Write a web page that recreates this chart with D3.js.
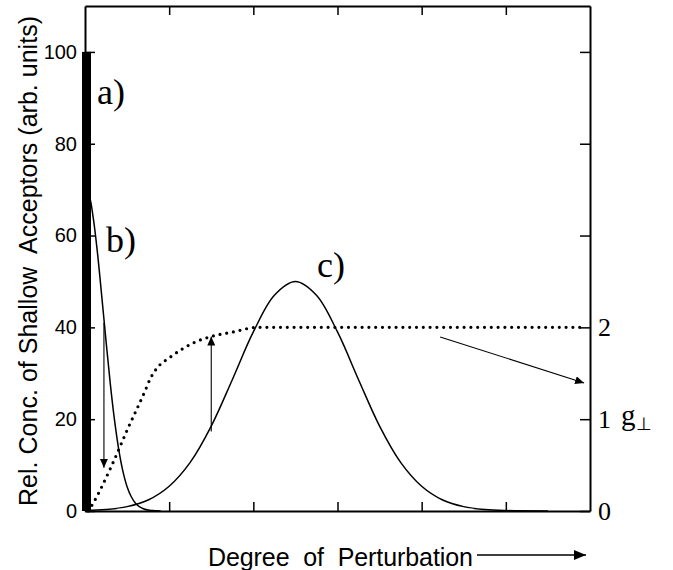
<!DOCTYPE html>
<html>
<head>
<meta charset="utf-8">
<script src="https://cdn.jsdelivr.net/npm/d3@7"></script>
<style>
  html, body { margin: 0; padding: 0; background: #fff; }
  svg { display: block; }
</style>
</head>
<body>
<svg id="chart" width="673" height="570"></svg>
<script>
// ---- data ----
const xTicks = [1, 2, 3, 4, 5];
const yTicks = [0, 20, 40, 60, 80, 100];
const gTicks = [0, 1, 2, 3, 4, 5];
const gTickLabels = ["0", "1", "2", "", "", ""];

// a) bar at the origin
const barA_x = 0;
const barA_value = 100;

// b) curve
const bX = [0, 0.05, 0.1, 0.15, 0.2, 0.25, 0.3, 0.35, 0.4, 0.45, 0.5, 0.55, 0.6, 0.65, 0.7, 0.75, 0.8, 0.9];
const bY = [70.5, 68.7, 63.6, 55.9, 46.6, 37.0, 27.8, 19.9, 13.5, 8.7, 5.3, 3.1, 1.7, 0.9, 0.45, 0.2, 0.1, 0];

// c) curve
const cX = [0, 0.25, 0.5, 0.75, 1.0, 1.25, 1.5, 1.75, 2.0, 2.25, 2.5, 2.75, 3.0, 3.25, 3.5, 3.75, 4.0, 4.25, 4.5, 4.75, 5.0, 5.5];
const cY = [0.1, 0.33, 0.95, 2.4, 5.4, 10.6, 18.5, 28.6, 39.0, 47.0, 50, 47.0, 39.0, 28.6, 18.5, 10.6, 5.4, 2.4, 0.95, 0.33, 0.1, 0];

// g-perp (dotted, right axis)
const gX = [0.04, 0.1, 0.31, 0.51, 0.71, 0.78, 0.85, 1.02, 1.31, 1.5, 1.76, 2.05, 2.4, 3, 4, 5, 5.88];
const gY = [0, 0.09, 0.48, 0.9, 1.3, 1.45, 1.55, 1.68, 1.84, 1.9, 1.95, 2.0, 2.0, 2.0, 2.0, 2.0, 2.0];

// arrows in data units: [x1, y1, x2, y2] (left-axis values)
const arrowDown = [0.225, 41, 0.225, 9.4];
const arrowUp = [1.5, 17.3, 1.5, 38];
const arrowDiag = [4.22, 37.9, 5.93, 27.9];

const labelA = "a)", labelB = "b)", labelC = "c)";
const yTitle = "Rel. Conc. of Shallow  Acceptors (arb. units)";
const xTitle = "Degree  of  Perturbation";

// ---- scales ----
const L = 85, R = 590, T = 6, B = 511;
const x = d3.scaleLinear().domain([0, 6]).range([L, R]);
const y = d3.scaleLinear().domain([0, 110]).range([B, T]);
const g = d3.scaleLinear().domain([0, 5.5]).range([B, T]);

const svg = d3.select("#chart");
const SANS = "'Liberation Sans', Arial, sans-serif";
const SERIF = "'Liberation Serif', 'Times New Roman', serif";

// markers
const defs = svg.append("defs");
defs.append("marker").attr("id", "head").attr("viewBox", "0 -4 9 8")
  .attr("refX", 9).attr("refY", 0).attr("markerWidth", 9).attr("markerHeight", 8)
  .attr("markerUnits", "userSpaceOnUse").attr("orient", "auto")
  .append("path").attr("d", "M0,-4L9,0L0,4Z").attr("fill", "#000");
defs.append("marker").attr("id", "bighead").attr("viewBox", "0 -5 12 10")
  .attr("refX", 12).attr("refY", 0).attr("markerWidth", 12).attr("markerHeight", 10)
  .attr("markerUnits", "userSpaceOnUse").attr("orient", "auto")
  .append("path").attr("d", "M0,-5L12,0L0,5Z").attr("fill", "#000");

// a) bar
svg.append("rect")
  .attr("x", x(barA_x) - 3).attr("width", 9)
  .attr("y", y(barA_value)).attr("height", y(0) - y(barA_value))
  .attr("fill", "#000");

// curves
const lineB = d3.line().x((d, i) => x(bX[i])).y(d => y(d)).curve(d3.curveCatmullRom);
svg.append("path").attr("d", lineB(bY)).attr("fill", "none").attr("stroke", "#000").attr("stroke-width", 1.5);

const lineC = d3.line().x((d, i) => x(cX[i])).y(d => y(d)).curve(d3.curveCatmullRom);
svg.append("path").attr("d", lineC(cY)).attr("fill", "none").attr("stroke", "#000").attr("stroke-width", 1.5);

const lineG = d3.line().x((d, i) => x(gX[i])).y(d => g(d)).curve(d3.curveMonotoneX);
svg.append("path").attr("d", lineG(gY)).attr("fill", "none").attr("stroke", "#000")
  .attr("stroke-width", 3.2).attr("stroke-linecap", "round").attr("stroke-dasharray", "0,6.8");

// arrows
[arrowDown, arrowUp, arrowDiag].forEach(a => {
  svg.append("line")
    .attr("x1", x(a[0])).attr("y1", y(a[1]))
    .attr("x2", x(a[2])).attr("y2", y(a[3]))
    .attr("stroke", "#000").attr("stroke-width", 1.1)
    .attr("marker-end", "url(#head)");
});

// axes
function styleAxis(sel, w) {
  sel.select(".domain").attr("stroke", "#000").attr("stroke-width", w);
  sel.selectAll(".tick line").attr("stroke", "#000").attr("stroke-width", 1.5);
}
const axB = svg.append("g").attr("transform", `translate(0,${B})`)
  .call(d3.axisBottom(x).tickValues(xTicks).tickSizeInner(-9).tickSizeOuter(0).tickFormat(""));
styleAxis(axB, 2.2);
const axT = svg.append("g").attr("transform", `translate(0,${T})`)
  .call(d3.axisTop(x).tickValues(xTicks).tickSizeInner(-9).tickSizeOuter(0).tickFormat(""));
styleAxis(axT, 2);
const axL = svg.append("g").attr("transform", `translate(${L},0)`)
  .call(d3.axisLeft(y).tickValues(yTicks).tickSizeInner(-10).tickSizeOuter(0).tickPadding(8));
styleAxis(axL, 2);
axL.selectAll("text").attr("font-family", SANS).attr("font-size", 20).attr("fill", "#000");
const axR = svg.append("g").attr("transform", `translate(${R},0)`)
  .call(d3.axisRight(g).tickValues(gTicks).tickSizeInner(-10).tickSizeOuter(0).tickPadding(8)
    .tickFormat((d, i) => gTickLabels[i]));
styleAxis(axR, 2);
axR.selectAll("text").attr("font-family", SERIF).attr("font-size", 26).attr("fill", "#000");

// g-perp label
const gl = svg.append("text").attr("x", 621).attr("y", 425)
  .attr("font-family", SERIF).attr("font-size", 29).attr("fill", "#000");
gl.append("tspan").text("g");
gl.append("tspan").attr("font-size", 18).attr("dy", 5).text("\u22A5");

// curve labels
svg.append("text").attr("x", 97).attr("y", 104).attr("font-family", SERIF).attr("font-size", 36).text(labelA);
svg.append("text").attr("x", 106).attr("y", 252).attr("font-family", SERIF).attr("font-size", 36).text(labelB);
svg.append("text").attr("x", 317).attr("y", 277).attr("font-family", SERIF).attr("font-size", 36).text(labelC);

// axis titles
svg.append("text")
  .attr("transform", "translate(37,261) rotate(-90)")
  .attr("text-anchor", "middle").attr("font-family", SANS).attr("font-size", 25)
  .attr("xml:space", "preserve")
  .attr("textLength", 490).attr("lengthAdjust", "spacing")
  .text(yTitle);

svg.append("text")
  .attr("x", 208).attr("y", 566)
  .attr("font-family", SANS).attr("font-size", 25)
  .attr("xml:space", "preserve")
  .attr("textLength", 265).attr("lengthAdjust", "spacing")
  .text(xTitle);
svg.append("line").attr("x1", 477).attr("y1", 555).attr("x2", 586).attr("y2", 555)
  .attr("stroke", "#000").attr("stroke-width", 1.5).attr("marker-end", "url(#bighead)");
</script>
</body>
</html>
